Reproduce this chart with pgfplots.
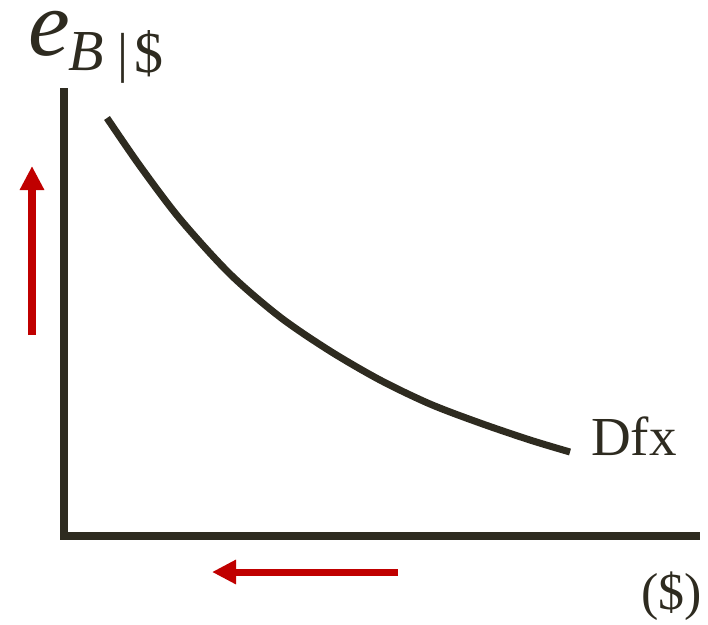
\documentclass[border=0pt]{standalone}
\usepackage{pgfplots}
\pgfplotsset{compat=1.18}
\usetikzlibrary{arrows.meta}
\usepackage{fontspec}
\setmainfont{Liberation Serif}
\definecolor{dark}{RGB}{46,43,32}
\definecolor{myred}{RGB}{192,0,0}
\begin{document}
\begin{tikzpicture}
\begin{axis}[
  scale only axis, width=708pt, height=624pt,
  xmin=0, xmax=708, ymin=0, ymax=624, y dir=reverse,
  hide axis, clip=false]
% invisible frame
\addplot[draw=none] coordinates {(0,0) (708,624)};
% axes
\addplot[color=dark, line width=7.5pt, line join=miter] coordinates {(64,88) (64,536) (700,536)};
% demand curve
\addplot[color=dark, line width=7pt, smooth] coordinates {
(107,118) (140,166) (180,219) (230,274) (280,317) (330,351)
(380,380) (430,404) (480,423) (530,440) (570,452)};
% red arrows
\addplot[color=myred, line width=8pt, -{Triangle[length=24pt,width=23pt]}] coordinates {(32,335) (32,166)};
\addplot[color=myred, line width=7pt, -{Triangle[length=24pt,width=23pt]}] coordinates {(398,572) (212,572)};
% labels
\node[anchor=base west, inner sep=0pt, text=dark] at (axis cs:591,455) {\fontsize{55}{60}\selectfont Dfx};
\node[anchor=base west, inner sep=0pt, text=dark] at (axis cs:641,609) {\fontsize{52}{58}\selectfont (\$)};
\node[anchor=base west, inner sep=0pt, text=dark, text height=44pt, text depth=0pt] at (axis cs:28,55) {\fontsize{94}{100}\selectfont\itshape\smash{e}};
\node[anchor=base west, inner sep=0pt, text=dark] at (axis cs:68,70) {\fontsize{58}{60}\selectfont\itshape B};
\node[anchor=base, inner sep=0pt, text=dark] at (axis cs:123,71) {\fontsize{55}{60}\selectfont |};
\node[anchor=base west, inner sep=0pt, text=dark] at (axis cs:134,72) {\fontsize{58}{60}\selectfont \$};
\end{axis}
\end{tikzpicture}
\end{document}
